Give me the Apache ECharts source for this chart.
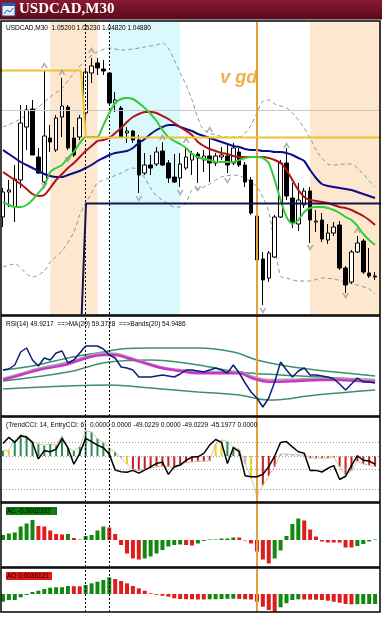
<!DOCTYPE html>
<html><head><meta charset="utf-8">
<script src="https://cdn.jsdelivr.net/npm/echarts/dist/echarts.min.js"></script>
<style>html,body{margin:0;padding:0;background:#fff}#c{width:382px;height:625px}</style>
</head><body><div id="c"></div>
<script>
// ---------- main chart (USDCAD M30) ----------
const opens=[1.04465,1.04590,1.04515,1.04650,1.04915,1.05005,1.04765,1.04640,1.04860,1.04800,1.04965,1.05015,1.04860,1.04865,1.04985,1.05185,1.05235,1.05205,1.05185,1.05035,1.05010,1.04885,1.04895,1.04850,1.04685,1.04725,1.04730,1.04795,1.04735,1.04665,1.04660,1.04710,1.04750,1.04780,1.04750,1.04770,1.04735,1.04765,1.04770,1.04735,1.04790,1.04725,1.04650,1.04470,1.04255,1.04160,1.04265,1.04465,1.04735,1.04560,1.04430,1.04525,1.04595,1.04440,1.04450,1.04350,1.04385,1.04425,1.04210,1.04140,1.04290,1.04345,1.04185,1.04170];
const closes=[1.04590,1.04600,1.04655,1.04935,1.05000,1.04775,1.04685,1.04870,1.04840,1.04960,1.05020,1.04810,1.04775,1.04960,1.05190,1.05220,1.05210,1.05195,1.05035,1.05050,1.04865,1.04895,1.04850,1.04675,1.04725,1.04710,1.04790,1.04725,1.04660,1.04640,1.04730,1.04765,1.04780,1.04760,1.04770,1.04735,1.04770,1.04775,1.04725,1.04810,1.04725,1.04640,1.04485,1.04250,1.04150,1.04285,1.04465,1.04735,1.04570,1.04440,1.04550,1.04595,1.04450,1.04445,1.04355,1.04385,1.04415,1.04210,1.04125,1.04290,1.04335,1.04190,1.04170,1.04165];
const lows=[1.04415,1.04515,1.04440,1.04610,1.04800,1.04775,1.04680,1.04630,1.04790,1.04790,1.04865,1.04800,1.04765,1.04850,1.04885,1.05135,1.05175,1.05175,1.05025,1.04990,1.04860,1.04835,1.04835,1.04585,1.04675,1.04675,1.04720,1.04720,1.04635,1.04635,1.04615,1.04700,1.04675,1.04635,1.04690,1.04640,1.04720,1.04750,1.04685,1.04725,1.04715,1.04615,1.04475,1.04150,1.04025,1.04140,1.04260,1.04460,1.04550,1.04410,1.04395,1.04510,1.04335,1.04390,1.04340,1.04330,1.04370,1.04200,1.04085,1.04130,1.04285,1.04180,1.04160,1.04150];
const highs=[1.04610,1.04650,1.04725,1.05025,1.05025,1.05050,1.04810,1.05200,1.04925,1.04975,1.05160,1.05025,1.04915,1.04975,1.05210,1.05260,1.05260,1.05250,1.05190,1.05090,1.05020,1.04915,1.04900,1.04875,1.04785,1.04775,1.04815,1.04840,1.04750,1.04780,1.04785,1.04810,1.04795,1.04790,1.04800,1.04865,1.04785,1.04815,1.04825,1.04835,1.04810,1.04740,1.04665,1.04475,1.04290,1.04295,1.04475,1.04750,1.04810,1.04635,1.04635,1.04610,1.04615,1.04500,1.04485,1.04430,1.04440,1.04445,1.04220,1.04300,1.04370,1.04355,1.04310,1.04190];

const maBlue=[1.04800,1.04780,1.04760,1.04740,1.04725,1.04710,1.04695,1.04680,1.04670,1.04665,1.04665,1.04675,1.04685,1.04695,1.04710,1.04725,1.04745,1.04760,1.04775,1.04785,1.04790,1.04795,1.04810,1.04835,1.04855,1.04880,1.04900,1.04915,1.04925,1.04925,1.04915,1.04905,1.04895,1.04880,1.04870,1.04860,1.04850,1.04840,1.04830,1.04820,1.04815,1.04805,1.04800,1.04800,1.04795,1.04795,1.04790,1.04790,1.04785,1.04775,1.04760,1.04745,1.04700,1.04660,1.04630,1.04620,1.04615,1.04610,1.04605,1.04600,1.04590,1.04580,1.04570,1.04560];
const maRed=[1.04690,1.04670,1.04650,1.04630,1.04605,1.04580,1.04570,1.04575,1.04610,1.04650,1.04680,1.04710,1.04735,1.04765,1.04795,1.04820,1.04845,1.04850,1.04860,1.04885,1.04910,1.04940,1.04965,1.04980,1.04990,1.04990,1.04985,1.04970,1.04955,1.04935,1.04915,1.04895,1.04875,1.04840,1.04820,1.04805,1.04795,1.04785,1.04780,1.04770,1.04765,1.04765,1.04765,1.04765,1.04765,1.04760,1.04750,1.04735,1.04700,1.04650,1.04600,1.04565,1.04550,1.04545,1.04540,1.04535,1.04525,1.04515,1.04510,1.04500,1.04485,1.04470,1.04450,1.04425];
const maGreen=[1.04540,1.04525,1.04515,1.04515,1.04525,1.04550,1.04585,1.04620,1.04690,1.04710,1.04725,1.04760,1.04790,1.04835,1.04865,1.04865,1.04865,1.04925,1.04985,1.05035,1.05055,1.05060,1.05055,1.05035,1.05010,1.04980,1.04945,1.04900,1.04865,1.04845,1.04830,1.04810,1.04780,1.04765,1.04755,1.04750,1.04740,1.04740,1.04740,1.04740,1.04750,1.04760,1.04765,1.04765,1.04760,1.04735,1.04650,1.04550,1.04465,1.04430,1.04450,1.04490,1.04510,1.04515,1.04515,1.04510,1.04500,1.04485,1.04465,1.04450,1.04420,1.04380,1.04350,1.04325];

// Bollinger bands [bar, price]
const bandUpper=[[0,1.04915],[2,1.04940],[4,1.04975],[6,1.05015],[8,1.05065],[10,1.05110],[12,1.05185],[14,1.05250],[16,1.05290],[18,1.05310],[20,1.05300],[22,1.05305],[24,1.05315],[26,1.05325],[27,1.05335],[28,1.05310],[29,1.05250],[30,1.05185],[31,1.05125],[32,1.05050],[33,1.04960],[34,1.04900],[36,1.04875],[38,1.04865],[40,1.04865],[41,1.04885],[42,1.04925],[43,1.04985],[44,1.05045],[45,1.05050],[46,1.05030],[48,1.05010],[49,1.04985],[50,1.04950],[51,1.04910],[52,1.04860],[53,1.04800],[54,1.04760],[55,1.04730],[56,1.04725],[58,1.04730],[59,1.04730],[60,1.04710],[61,1.04680],[62,1.04645],[63,1.04615]];
const bandLower=[[0,1.04215],[2,1.04230],[4,1.04180],[5,1.04165],[7,1.04195],[8,1.04240],[10,1.04295],[12,1.04390],[13,1.04475],[14,1.04535],[15,1.04585],[16,1.04635],[18,1.04660],[20,1.04685],[22,1.04710],[23,1.04700],[24,1.04660],[25,1.04610],[26,1.04570],[27,1.04550],[28,1.04530],[29,1.04515],[30,1.04515],[31,1.04535],[32,1.04600],[33,1.04605],[34,1.04615],[35,1.04630],[36,1.04650],[37,1.04665],[39,1.04675],[40,1.04670],[41,1.04660],[42,1.04640],[43,1.04615],[44,1.04565],[45,1.04490],[46,1.04325],[47,1.04170],[48,1.04160],[50,1.04145],[52,1.04145],[54,1.04160],[56,1.04155],[58,1.04140],[60,1.04125],[62,1.04105],[63,1.04080]];

// horizontal trade lines [bar, price]
const goldLine=[[-0.5,1.05197],[13.2,1.05197],[14.06,1.048625],[64,1.048625]];
const navyLine=[[13.33,1.0398],[14.06,1.04533],[64,1.04533]];
const bidPrice=1.04697;

// fractals [bar, price]
const fractalUp=[[7,1.05225],[10,1.05190],[15,1.05300],[27,1.04865],[31,1.04850],[35,1.04905],[48,1.04825],[60,1.04400]];
const fractalDown=[[7,1.04620],[11,1.04750],[23,1.04555],[30,1.04585],[33,1.04605],[38,1.04645],[44,1.03995],[52,1.04310],[58,1.04070]];

const noteText='v gd';
const notePos=[39.9,1.05160];

// session background bands [fromBar, toBar, colour]
const sessions=[[8,16,'#fde7cf'],[18,30,'#dbf8fc'],[52,64,'#fde7cf']];
const dashedBars=[14,18];
const orangeBar=43;

// ---------- RSI pane ----------
const rsi=[56.8,57.6,60.8,71.2,74.4,64.8,60.0,66.4,64.8,70.4,72.0,62.4,64.8,70.4,76.0,76.0,76.0,73.6,68.8,66.4,59.2,58.4,56.8,51.2,51.2,51.2,52.0,52.8,52.0,51.2,53.6,56.8,56.8,56.0,55.2,56.8,58.4,56.8,54.4,60.8,54.4,46.4,39.2,34.4,27.2,34.4,47.2,63.2,56.8,51.2,56.0,58.4,52.8,52.8,52.0,51.2,49.6,45.6,40.8,45.6,50.4,47.2,47.2,46.4];
const rsiMA=[[0,48.8],[3,52.8],[6,56.8],[11,61.4],[14,66.2],[17,68.8],[19,68.8],[21,66.4],[24,62.2],[27,58.2],[30,56.0],[33,54.2],[37,54.2],[40,54.2],[42,50.6],[45,47.4],[47,47.4],[50,48.0],[54,48.8],[57,48.8],[60,48.0],[63,47.4]];
const rsiMid=[[0,50.0],[3,54.0],[6,58.0],[11,63.0],[14,67.5],[17,70.5],[19,70.0],[21,67.5],[24,63.0],[27,59.0],[30,57.0],[33,55.5],[40,55.5],[42,52.0],[45,49.0],[50,49.5],[57,50.0],[63,49.0]];
const rsiBand1=[[0,56.8],[5,60.0],[11,66.4],[17,71.2],[20,73.6],[25,74.4],[33,74.4],[39,71.2],[43,64.8],[47,60.8],[53,56.8],[58,54.4],[63,52.0]];
const rsiBand2=[[0,48.0],[11,55.2],[18,63.2],[25,64.8],[33,60.8],[40,55.2],[47,52.8],[57,50.4],[63,48.8]];
const rsiBand3=[[0,41.6],[11,44.0],[18,44.8],[25,42.4],[33,39.2],[40,36.8],[45,32.8],[53,36.8],[63,40.8]];

// ---------- CCI pane ----------
const cciTrend=[20,22,60,80,75,55,45,40,45,40,75,30,20,35,95,90,65,50,30,15,-8,-30,-50,-55,-50,-45,-40,-38,-40,-45,-35,-25,-22,-20,-20,-18,45,60,55,35,25,-30,-80,-150,-110,-75,-40,8,8,5,5,3,-8,-8,-8,-8,-5,-40,-70,-55,-20,-30,-35,-40];
const cciColors='gy'+'g'.repeat(18)+'xy'+'r'.repeat(14)+'yyggg'+'xyy'+'rrr'+'xxxxx'+'r'.repeat(12);
const cciEntry=[47,70,51,76,70,51,-11,20,16,26,66,31,-31,10,66,54,41,31,7,-53,-59,-61,-54,-64,-53,-41,-28,-23,-69,-40,-34,-16,-4,-3,10,41,62,51,-28,31,16,-74,-78,-78,-69,-40,0,51,54,34,16,10,-54,-54,-60,-46,-36,-88,-76,-36,1,-16,-19,-31];
const cciLevels=[50,0,-50,-125];

// ---------- AC / AO panes ----------
const ac=[0.00010,0.00013,0.00015,0.00027,0.00033,0.00040,0.00028,0.00027,0.00019,0.00012,0.00011,0.00012,0.00004,0.00001,0.00008,0.00010,0.00019,0.00027,0.00025,0.00012,-0.00010,-0.00027,-0.00037,-0.00039,-0.00037,-0.00033,-0.00027,-0.00020,-0.00013,-0.00010,-0.00009,-0.00010,-0.00011,-0.00007,-0.00002,0.00001,0.00001,0.00003,0.00003,0.00005,0.00005,-0.00001,-0.00007,-0.00023,-0.00039,-0.00047,-0.00037,-0.00021,0.00008,0.00032,0.00043,0.00039,0.00021,0.00007,-0.00003,-0.00005,-0.00005,-0.00005,-0.00015,-0.00015,-0.00012,-0.00008,-0.00003,0.00001];
const acColors='gggggg'+'rrrrr'+'g'+'rr'+'gggg'+'rrrrrr'+'ggggggg'+'rr'+'ggggggg'+'rrrrrr'+'ggggg'+'rrrrrrrrr'+'gggg';
const ao=[-0.00077,-0.00060,-0.00060,-0.00033,-0.00010,0.00020,0.00033,0.00050,0.00063,0.00067,0.00068,0.00080,0.00078,0.00077,0.00090,0.00107,0.00123,0.00140,0.00167,0.00150,0.00130,0.00107,0.00080,0.00057,0.00033,0.00007,-0.00007,-0.00017,-0.00027,-0.00043,-0.00050,-0.00052,-0.00053,-0.00055,-0.00055,-0.00053,-0.00052,-0.00050,-0.00048,-0.00047,-0.00049,-0.00053,-0.00055,-0.00077,-0.00127,-0.00160,-0.00177,-0.00133,-0.00093,-0.00060,-0.00053,-0.00055,-0.00056,-0.00057,-0.00060,-0.00067,-0.00077,-0.00087,-0.00100,-0.00103,-0.00102,-0.00101,-0.00100,-0.00100];
const aoColors='g'.repeat(12)+'rr'+'ggggg'+'r'.repeat(16)+'ggggg'+'rrrrrrr'+'gggg'+'rrrrrrrrr'+'gggg';

// ---------- texts ----------
const windowTitle='USDCAD,M30';
const mainLabel='USDCAD,M30  1.05200 1.05230 1.04820 1.04880';
const rsiLabel='RSI(14) 49.9217  ==>MA(20) 59.3728  ==>Bands(20) 54.9486';
const cciLabel='(TrendCCI: 14, EntryCCI: 6)  0.0000 0.0000 -49.0229 0.0000 -49.0229 -45.1977 0.0000';
const acLabel='AC -0.0002337';
const aoLabel='AO 0.0036121';

// =====================================================
const chart=echarts.init(document.getElementById('c'),null,{renderer:'canvas',width:382,height:625});
const idx=opens.map((_,i)=>i);
const panes=[{top:22,height:292},{top:316,height:100},{top:418,height:84},{top:504,height:63},{top:569,height:43}];
const yRanges=[[1.0398,1.0544],[20,100],[-172.5,142.5],[-0.00054,0.00072],[-0.0018,0.0025]];
const FONT='"Liberation Sans", Arial, sans-serif';
const colMap={g:'#2e8b57',r:'#c81e1e',y:'#ecd21e',x:'#b4b4b4'};
const barCol={g:'#118811',r:'#e01c1c'};

function vLineSeries(g){
  return {type:'line',xAxisIndex:g,yAxisIndex:g,data:[],z:6,silent:true,
    markLine:{silent:true,symbol:['none','none'],label:{show:false},animation:false,
      data:[...dashedBars.map(b=>({xAxis:b,lineStyle:{color:'#000',type:[2,2],width:1}})),
            {xAxis:orangeBar,lineStyle:{color:'#e4a23c',type:'solid',width:2}}]}};
}
function lineS(g,data,color,width,extra){
  return Object.assign({type:'line',xAxisIndex:g,yAxisIndex:g,data:data,symbol:'none',silent:true,
    lineStyle:{color:color,width:width},z:4},extra||{});
}

const series=[
  {type:'line',xAxisIndex:0,yAxisIndex:0,data:[],z:0,silent:true,
   markArea:{silent:true,data:sessions.map(s=>[{xAxis:s[0],itemStyle:{color:s[2]}},{xAxis:s[1]}])},
   markLine:{silent:true,symbol:['none','none'],label:{show:false},
     data:[{yAxis:bidPrice,lineStyle:{color:'#c9c9c9',width:1,type:'solid'}}]}},
  lineS(0,bandUpper,'#7d9d98',1,{smooth:0.3,lineStyle:{color:'#7d9d98',width:1,type:[4,3]},z:2}),
  lineS(0,bandLower,'#7d9d98',1,{smooth:0.3,lineStyle:{color:'#7d9d98',width:1,type:[4,3]},z:2}),
  {type:'candlestick',xAxisIndex:0,yAxisIndex:0,barWidth:4,z:3,silent:true,
   encode:{x:0,y:[1,2,3,4]},
   data:idx.map(i=>[i,opens[i],closes[i],lows[i],highs[i]]),
   itemStyle:{color:'#ffffff',color0:'#000000',borderColor:'#000000',borderColor0:'#000000',borderWidth:1}},
  lineS(0,idx.map(i=>[i,maBlue[i]]),'#0c0c8c',2,{smooth:0.2}),
  lineS(0,idx.map(i=>[i,maRed[i]]),'#b01414',2,{smooth:0.2}),
  lineS(0,idx.map(i=>[i,maGreen[i]]),'#34cc34',2,{smooth:0.2,z:5}),
  lineS(0,goldLine,'#f0c430',2,{z:5}),
  lineS(0,navyLine,'#14144e',2,{z:5}),
  {type:'scatter',xAxisIndex:0,yAxisIndex:0,data:fractalUp,z:7,silent:true,
   symbol:'path://M0,8 L4,0 L8,8 L6,8 L4,4 L2,8 Z',symbolSize:[7,6],itemStyle:{color:'#9a9a9a'}},
  {type:'scatter',xAxisIndex:0,yAxisIndex:0,data:fractalDown,z:7,silent:true,
   symbol:'path://M0,8 L4,0 L8,8 L6,8 L4,4 L2,8 Z',symbolRotate:180,symbolSize:[7,6],itemStyle:{color:'#9a9a9a'}},
  {type:'scatter',xAxisIndex:0,yAxisIndex:0,data:[notePos],symbolSize:0,z:8,silent:true,
   label:{show:true,position:'inside',formatter:noteText,color:'#ee9a1e',fontSize:18,fontWeight:'bold',fontStyle:'italic',fontFamily:FONT}},
  lineS(1,rsiBand1,'#3d8f70',1.5,{smooth:0.4}),
  lineS(1,rsiBand2,'#3d8f70',1.5,{smooth:0.4}),
  lineS(1,rsiBand3,'#3d8f70',1.5,{smooth:0.4}),
  lineS(1,rsiMid,'#a6a6a6',2,{smooth:0.4}),
  lineS(1,rsiMA,'#cc33cc',2.5,{smooth:0.4,z:5}),
  lineS(1,idx.map(i=>[i,rsi[i]]),'#0b1f7a',1.5,{z:6}),
  {type:'line',xAxisIndex:2,yAxisIndex:2,data:[],z:1,silent:true,
   markLine:{silent:true,symbol:['none','none'],label:{show:false},
     data:cciLevels.map(v=>({yAxis:v,lineStyle:{color:'#9c9c9c',width:1,type:[1,2]}}))}},
  {type:'bar',xAxisIndex:2,yAxisIndex:2,barWidth:2,z:3,silent:true,
   data:idx.map(i=>({value:[i,cciTrend[i]],itemStyle:{color:colMap[cciColors[i]]}}))},
  lineS(2,idx.map(i=>[i,cciTrend[i]]),'#d2c59e',1,{z:4}),
  lineS(2,idx.map(i=>[i,cciEntry[i]]),'#000000',1.5,{z:5}),
  {type:'bar',xAxisIndex:3,yAxisIndex:3,barWidth:4,z:3,silent:true,
   data:idx.map(i=>({value:[i,ac[i]],itemStyle:{color:barCol[acColors[i]]}}))},
  {type:'bar',xAxisIndex:4,yAxisIndex:4,barWidth:4,z:3,silent:true,
   data:idx.map(i=>({value:[i,ao[i]],itemStyle:{color:barCol[aoColors[i]]}}))},
  vLineSeries(0),vLineSeries(1),vLineSeries(2),vLineSeries(3),vLineSeries(4)
];

const frames=[[21,294],[316,100],[417,85],[503,64],[568,44]];
const graphic=[
  {type:'rect',shape:{x:0,y:0,width:382,height:19},z:100,
   style:{fill:new echarts.graphic.LinearGradient(0,0,0,1,[{offset:0,color:'#8c1832'},{offset:1,color:'#5a0a1c'}])}},
  {type:'rect',shape:{x:0,y:19,width:382,height:1},z:100,style:{fill:'#8a8a8a'}},
  {type:'rect',shape:{x:2,y:3,width:13,height:13},z:101,style:{fill:'#e8eef8',stroke:'#2a4a9a',lineWidth:1}},
  {type:'rect',shape:{x:2,y:3,width:13,height:3},z:101,style:{fill:'#2a5ab0'}},
  {type:'polyline',shape:{points:[[4,14],[7,10],[10,12],[13,8]]},z:102,style:{stroke:'#2a5ab0',lineWidth:1,fill:null}},
  {type:'text',x:19,y:2,z:101,style:{text:windowTitle,font:'bold 15px "Liberation Serif", serif',fill:'#ffffff'}},
  ...frames.map(f=>({type:'rect',shape:{x:1,y:f[0],width:379,height:f[1]},z:90,silent:true,
     style:{fill:null,stroke:'#000',lineWidth:1.5}})),
  {type:'text',x:6,y:25,z:95,style:{text:mainLabel,font:'6.5px '+FONT,fill:'#000'}},
  {type:'text',x:6,y:321,z:95,style:{text:rsiLabel,font:'6.5px '+FONT,fill:'#000'}},
  {type:'text',x:6,y:422,z:95,style:{text:cciLabel,font:'6.5px '+FONT,fill:'#000'}},
  {type:'rect',shape:{x:6,y:507,width:51,height:8},z:94,style:{fill:'#0b7a0b'}},
  {type:'text',x:7,y:508,z:95,style:{text:acLabel,font:'6.5px '+FONT,fill:'#000'}},
  {type:'rect',shape:{x:6,y:572,width:46,height:8},z:94,style:{fill:'#e01818'}},
  {type:'text',x:7,y:573,z:95,style:{text:aoLabel,font:'6.5px '+FONT,fill:'#000'}}
];

chart.setOption({
  animation:false,
  grid:panes.map(p=>({left:0,right:1,top:p.top,height:p.height,containLabel:false})),
  xAxis:panes.map((p,g)=>({type:'value',gridIndex:g,min:-0.5,max:64,show:false})),
  yAxis:panes.map((p,g)=>({type:'value',gridIndex:g,min:yRanges[g][0],max:yRanges[g][1],show:false})),
  series:series,
  graphic:graphic
});
</script></body></html>
